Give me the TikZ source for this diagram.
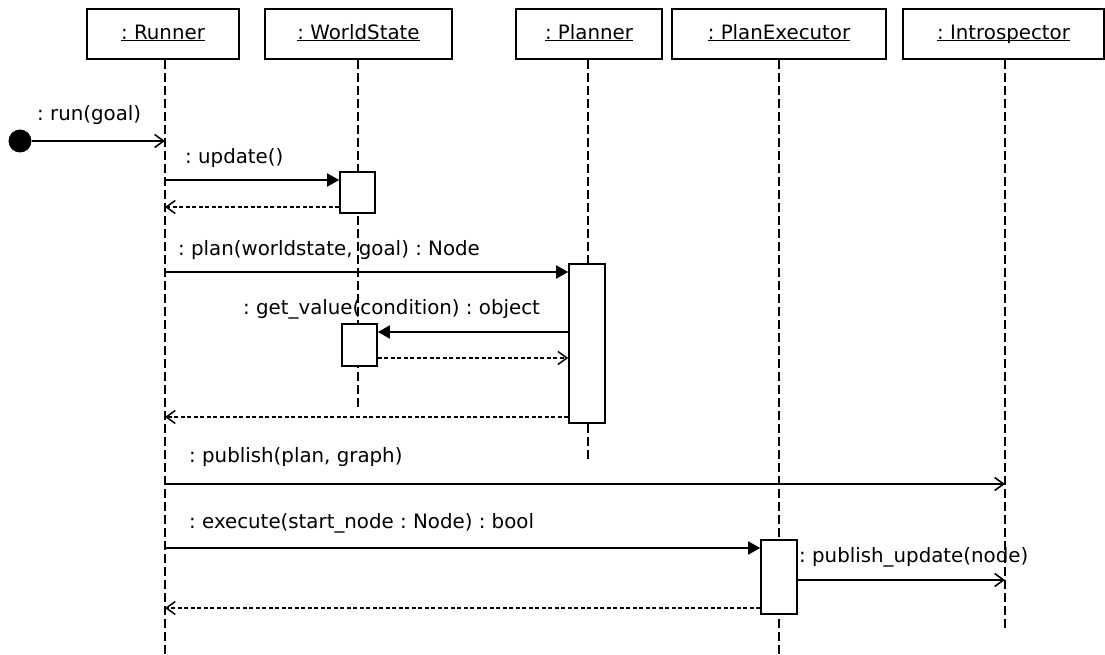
\documentclass[tikz,border=0pt]{standalone}
\usepackage{fontspec}
\setmainfont{DejaVu Sans}
\usetikzlibrary{arrows.meta}
\frenchspacing
% object name, underlined at a fixed depth
\newcommand\objname[1]{\underline{\smash{#1}}\vphantom{Ip}}
\begin{document}
\begin{tikzpicture}[x=1pt,y=-1pt,
  every node/.style={font=\fontsize{19.8}{23}\selectfont},
  obj/.style={draw,line width=1.6pt,rectangle,minimum height=50pt,inner sep=0pt},
  act/.style={draw,line width=1.6pt,fill=white,rectangle,inner sep=0pt},
  lifeline/.style={line width=1.4pt,dash pattern=on 9pt off 4pt},
  call/.style={line width=1.6pt,-{Triangle[length=12pt,width=13pt]}},
  async/.style={line width=1.6pt,-{Straight Barb[length=9pt,width=13pt,line width=1.6pt]}},
  ret/.style={line width=1.5pt,dash pattern=on 4pt off 2.5pt,-{Straight Barb[length=9pt,width=13pt,line width=1.5pt,sep=0pt]}},
  lbl/.style={anchor=west,inner sep=0pt}]
\useasboundingbox (0,0) rectangle (1105,655);

% object headers
\node[obj,minimum width=152pt] (runner) at (163,34) {\objname{: Runner}};
\node[obj,minimum width=187pt] (world) at (358.5,34) {\objname{: WorldState}};
\node[obj,minimum width=146pt] (planner) at (589,34) {\objname{: Planner}};
\node[obj,minimum width=214pt] (exec) at (779,34) {\objname{: PlanExecutor}};
\node[obj,minimum width=201pt] (intro) at (1003.5,34) {\objname{: Introspector}};

% lifeline ends
\coordinate (runnerEnd) at (165,655);
\coordinate (worldEnd) at (358,407);
\coordinate (plannerEnd) at (588,462);
\coordinate (execEnd) at (779,655);
\coordinate (introEnd) at (1005,630);

\draw[lifeline] (runner.south -| runnerEnd) -- (runnerEnd);
\draw[lifeline] (world.south -| worldEnd) -- (worldEnd);
\draw[lifeline] (planner.south -| plannerEnd) -- (plannerEnd);
\draw[lifeline] (exec.south -| execEnd) -- (execEnd);
\draw[lifeline] (intro.south -| introEnd) -- (introEnd);

% activation bars
\node[act,minimum width=35pt,minimum height=41pt] (wsA) at (357.5,192.5) {};
\node[act,minimum width=36pt,minimum height=159pt] (plA) at (587,343.5) {};
\node[act,minimum width=35pt,minimum height=42pt] (wsB) at (359.5,345) {};
\node[act,minimum width=36pt,minimum height=74pt] (peA) at (779,577) {};

% message rows on the runner lifeline
\coordinate (mRun) at (165,141);
\coordinate (mUpd) at (165,180);
\coordinate (rUpd) at (165,207);
\coordinate (mPlan) at (165,272);
\coordinate (rPlan) at (165,417);
\coordinate (mPub) at (165,484);
\coordinate (mExe) at (165,548);
\coordinate (rExe) at (165,608);
\coordinate (mGet) at (587,332);
\coordinate (rGet) at (587,358);
\coordinate (mUpdN) at (779,580);

% initial message
\node[circle,fill=black,minimum size=23pt,inner sep=0pt] (start) at (20,141) {};
\draw[async] (start) -- (mRun);
\node[lbl] (lRun) at (37,115) {: run(goal)};

% update
\draw[call] (mUpd) -- (mUpd -| wsA.west);
\draw[ret] (rUpd -| wsA.west) -- (rUpd);
\node[lbl] (lUpd) at (185,158) {: update()};

% plan
\draw[call] (mPlan) -- (mPlan -| plA.west);
\node[lbl] (lPlan) at (178,250) {: plan(worldstate, goal) : Node};

% get_value
\draw[call] (mGet -| plA.west) -- (mGet -| wsB.east);
\draw[ret] (rGet -| wsB.east) -- (rGet -| plA.west);
\node[lbl] (lGet) at (243,309) {: get\_value(condition) : object};

\draw[ret] (rPlan -| plA.west) -- (rPlan);

% publish
\draw[async] (mPub) -- (mPub -| introEnd);
\node[lbl] (lPub) at (189,457) {: publish(plan, graph)};

% execute
\draw[call] (mExe) -- (mExe -| peA.west);
\node[lbl] (lExe) at (189,523) {: execute(start\_node : Node) : bool};
\draw[async] (mUpdN -| peA.east) -- (mUpdN -| introEnd);
\node[lbl] (lUpdN) at (799,557) {: publish\_update(node)};
\draw[ret] (rExe -| peA.west) -- (rExe);
\end{tikzpicture}
\end{document}
